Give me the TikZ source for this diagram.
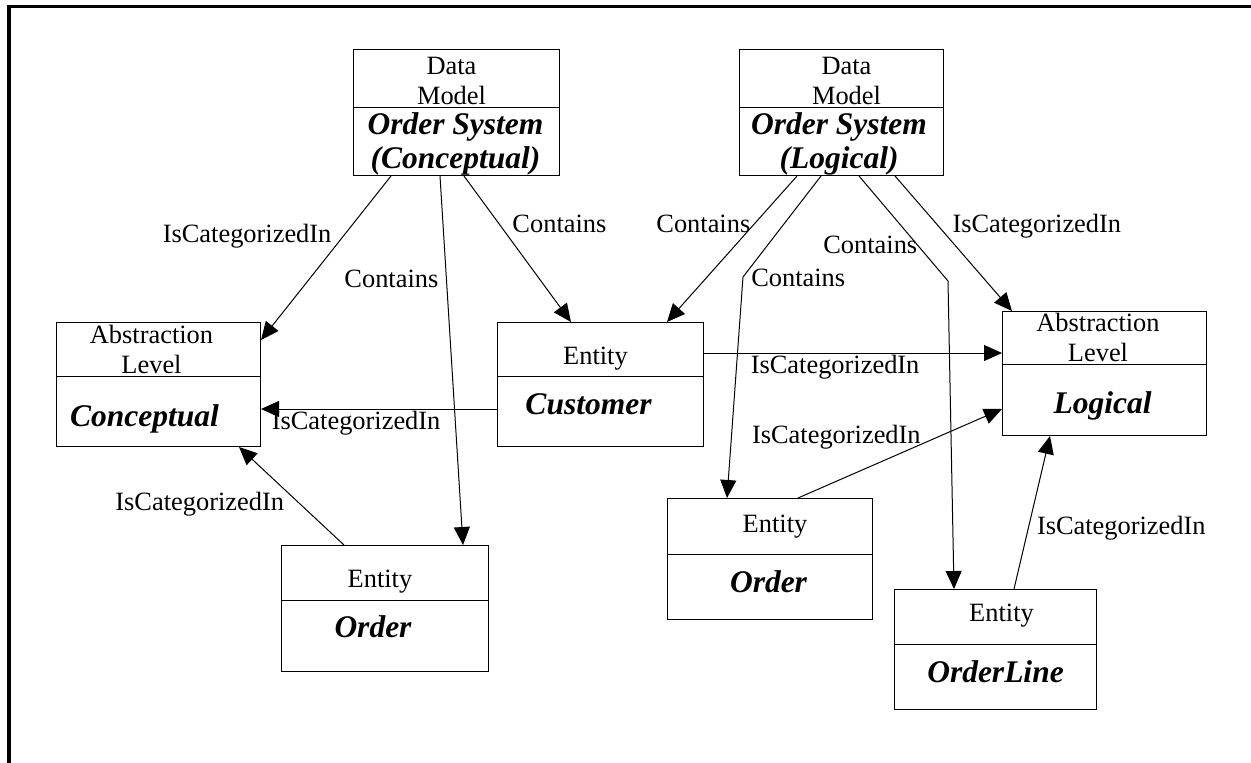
\documentclass[tikz,border=0pt]{standalone}
\usepackage{fontspec}
\setmainfont{Liberation Serif}
\usetikzlibrary{arrows.meta}

\begin{document}
\begin{tikzpicture}[x=1pt, y=-1pt, >={Triangle[length=18pt,width=16pt]}, line width=1pt]

    % Define the styles for the boxes and texts
    \tikzset{box/.style={draw, rectangle, anchor=north west, inner sep=0pt},
             hdr/.style={font=\fontsize{26.4}{30}\selectfont, align=center, inner sep=0pt},
             nm/.style={font=\fontsize{31.5}{34}\selectfont\bfseries\itshape, align=center, inner sep=0pt},
             lbl/.style={font=\fontsize{26.4}{30}\selectfont, inner sep=2pt}}

    \useasboundingbox (0,0) rectangle (1251,763);

    % Frame
    \draw[line width=3.5pt] (8.8,763) -- (8.8,6.5) -- (1251,6.5);

    % Boxes
    \node[box, minimum width=206pt, minimum height=126pt] (dmcon) at (353,49) {};
    \node[box, minimum width=204pt, minimum height=126pt] (dmlog) at (739,49) {};
    \node[box, minimum width=204pt, minimum height=124pt] (alcon) at (56,322) {};
    \node[box, minimum width=206pt, minimum height=124pt] (cust) at (497,322) {};
    \node[box, minimum width=207pt, minimum height=126pt] (ordcon) at (281,545) {};
    \node[box, minimum width=204pt, minimum height=124pt] (allog) at (1002,311) {};
    \node[box, minimum width=205pt, minimum height=121pt] (ordlog) at (667,498) {};
    \node[box, minimum width=202pt, minimum height=120pt] (oline) at (894,589) {};

    \foreach \b/\d in {dmcon/58, dmlog/58, alcon/54, cust/54, ordcon/55, allog/53, ordlog/56, oline/55}
        \draw ([yshift=-\d pt]\b.north west) -- ([yshift=-\d pt]\b.north east);

    % Texts in the boxes
    \node[hdr] (dmconh) at ([xshift=-5pt,yshift=-32pt]dmcon.north) {Data\\Model};
    \node[nm] (dmconn) at ([xshift=-1pt,yshift=-95pt]dmcon.north) {Order System\\(Conceptual)};
    \node[hdr] (dmlogh) at ([xshift=5pt,yshift=-32pt]dmlog.north) {Data\\Model};
    \node[nm] (dmlogn) at ([xshift=-2.5pt,yshift=-95pt]dmlog.north) {Order System\\(Logical)};
    \node[hdr] (alconh) at ([xshift=-7pt,yshift=-27pt]alcon.north) {Abstraction\\Level};
    \node[nm] (alconn) at ([xshift=-14pt,yshift=-97pt]alcon.north) {Conceptual};
    \node[hdr] (alrogh) at ([xshift=-6.5pt,yshift=-26.5pt]allog.north) {Abstraction\\Level};
    \node[nm] (allogn) at ([xshift=-2pt,yshift=-95pt]allog.north) {Logical};
    \node[hdr] (custh) at ([xshift=-5pt,yshift=-37pt]cust.north) {Entity};
    \node[nm] (custn) at ([xshift=-12pt,yshift=-82.5pt]cust.north) {Customer};
    \node[hdr] (ordconh) at ([xshift=-5pt,yshift=-37pt]ordcon.north) {Entity};
    \node[nm] (ordconn) at ([xshift=-12pt,yshift=-82pt]ordcon.north) {Order};
    \node[hdr] (ordlogh) at ([xshift=5pt,yshift=-29pt]ordlog.north) {Entity};
    \node[nm] (ordlogn) at ([xshift=-1.5pt,yshift=-84pt]ordlog.north) {Order};
    \node[hdr] (olineh) at ([xshift=6pt,yshift=-27pt]oline.north) {Entity};
    \node[nm] (olinen) at ([yshift=-83pt]oline.north) {OrderLine};

    % Bends
    \coordinate (bendord) at (743,277);
    \coordinate (bendline) at (948,281);

    % Paths
    \path[->]
    ([xshift=38pt]dmcon.south west) edge node[lbl, pos=0.37, anchor=east, xshift=-9pt] {IsCategorizedIn} ([yshift=-18pt]alcon.north east)
    ([xshift=87pt]dmcon.south west) edge node[lbl, pos=0.28, anchor=east, xshift=-5.6pt] {Contains} ([xshift=182pt]ordcon.north west)
    ([xshift=111pt]dmcon.south west) edge node[lbl, pos=0.327, anchor=west, xshift=11pt] {Contains} ([xshift=74pt]cust.north west)
    ([yshift=-87pt]cust.north west) edge node[lbl, pos=0.597, below] {IsCategorizedIn} ([yshift=-87pt]alcon.north east)
    ([xshift=63pt]ordcon.north west) edge node[lbl, pos=0.414, anchor=east, xshift=-14pt] {IsCategorizedIn} ([xshift=-22pt]alcon.south east)
    ([yshift=-31pt]cust.north east) edge node[lbl, pos=0.44, below] {IsCategorizedIn} ([yshift=-42pt]allog.north west)
    ([xshift=58pt]dmlog.south west) edge node[lbl, pos=0.327, anchor=east, xshift=-1.7pt] {Contains} ([xshift=170pt]cust.north west)
    ([xshift=156pt]dmlog.south west) edge node[lbl, pos=0.372, anchor=west, xshift=11.5pt] {IsCategorizedIn} ([xshift=10pt]allog.north west)
    ([xshift=131pt]ordlog.north west) edge node[lbl, pos=0.685, anchor=east, xshift=-14.6pt] {IsCategorizedIn} ([yshift=-98pt]allog.north west)
    ([xshift=120pt]oline.north west) edge node[lbl, pos=0.397, anchor=west, xshift=6.2pt] {IsCategorizedIn} ([xshift=48pt]allog.south west);

    \draw[->] ([xshift=82pt]dmlog.south west) -- (bendord) node[lbl, anchor=west, xshift=5.8pt, yshift=-1pt] {Contains} -- ([xshift=60pt]ordlog.north west);
    \draw[->] ([xshift=120pt]dmlog.south west) -- node[lbl, pos=0.66, anchor=east, xshift=2pt] {Contains} (bendline) -- ([xshift=60pt]oline.north west);
\end{tikzpicture}
\end{document}
